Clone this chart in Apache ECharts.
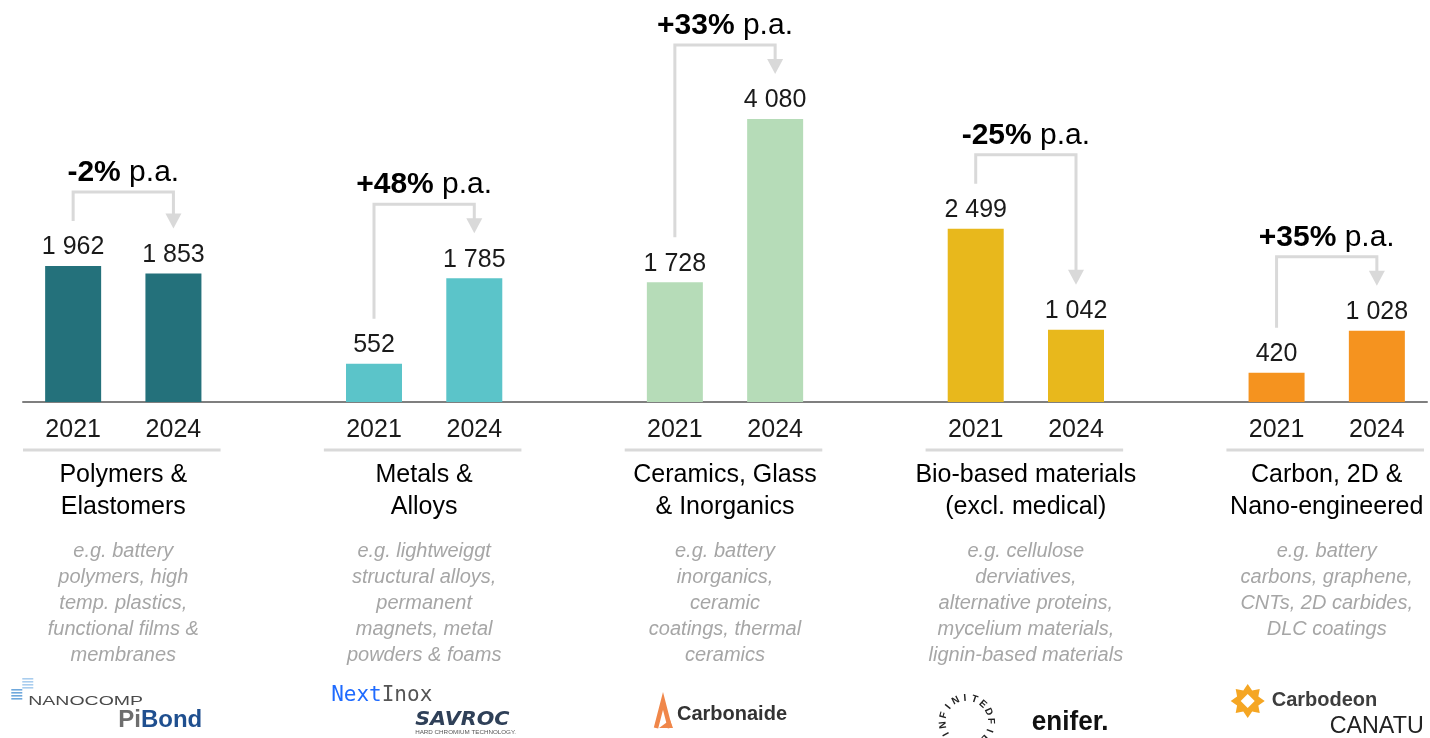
<!DOCTYPE html>
<html>
<head>
<meta charset="utf-8">
<script src="https://cdn.jsdelivr.net/npm/echarts@6/dist/echarts.min.js"></script>
<style>html,body{margin:0;padding:0;background:#fff}#c{width:1430px;height:738px}</style>
</head>
<body>
<div id="c"></div>
<script>
// ---------- data ----------
const groupNames = ['Polymers &\nElastomers', 'Metals &\nAlloys', 'Ceramics, Glass\n& Inorganics', 'Bio-based materials\n(excl. medical)', 'Carbon, 2D &\nNano-engineered'];
const examples = [
  'e.g. battery\npolymers, high\ntemp. plastics,\nfunctional films &\nmembranes',
  'e.g. lightweiggt\nstructural alloys,\npermanent\nmagnets, metal\npowders & foams',
  'e.g. battery\ninorganics,\nceramic\ncoatings, thermal\nceramics',
  'e.g. cellulose\nderviatives,\nalternative proteins,\nmycelium materials,\nlignin-based materials',
  'e.g. battery\ncarbons, graphene,\nCNTs, 2D carbides,\nDLC coatings'
];
const years = ['2021', '2024'];
const values2021 = [1962, 552, 1728, 2499, 420];
const values2024 = [1853, 1785, 4080, 1042, 1028];
const cagrLabels = ['-2%', '+48%', '+33%', '-25%', '+35%'];
const logoNames = [['NANOCOMP', 'PiBond'], ['NextInox', 'SAVROC'], ['Carbonaide'], ['INFINITEDFIBER', 'enifer.'], ['Carbodeon', 'CANATU']];
const palette = ['#24717B', '#5BC4C9', '#B6DCB8', '#E8B81C', '#F5931F'];

// ---------- build ----------
const FONT = '"Liberation Sans", Arial, Helvetica, sans-serif';
const categories = [];
const barData = [];
groupNames.forEach((_, g) => {
  categories.push(years[0], years[1]);
  barData.push({ value: values2021[g], itemStyle: { color: palette[g] } });
  barData.push({ value: values2024[g], itemStyle: { color: palette[g] } });
  if (g < groupNames.length - 1) { categories.push(''); barData.push('-'); }
});
const groupData = groupNames.map((_, g) => [g * 3, values2021[g], g * 3 + 1, values2024[g]]);

function fmt(v) { return String(v).replace(/\B(?=(\d{3})+(?!\d))/g, ' '); }

function txt(x, y, text, st, extra) {
  return Object.assign({ type: 'text', x: x, y: y, style: Object.assign({ text: text, fontFamily: FONT, align: 'left', verticalAlign: 'middle' }, st) }, extra || {});
}

function logoElems(g, cx, base) {
  const L = logoNames[g];
  const els = [];
  if (g === 0) {
    for (let i = 0; i < 4; i++) {
      els.push({ type: 'rect', shape: { x: cx - 112, y: base + 287 + i * 3, width: 11, height: 1.6 }, style: { fill: '#6FA8DC' } });
      els.push({ type: 'rect', shape: { x: cx - 101, y: base + 276 + i * 3, width: 11, height: 1.6 }, style: { fill: '#A9CDEE' } });
    }
    els.push(txt(cx - 95, base + 299, L[0], { fontSize: 13, fill: '#4a4a4a' }, { scaleX: 1.5 }));
    els.push(txt(cx - 5, base + 318, '{a|Pi}{b|Bond}', { rich: { a: { fontSize: 24, fontWeight: 'bold', fill: '#6e6e6e', fontFamily: FONT }, b: { fontSize: 24, fontWeight: 'bold', fill: '#1F4F8F', fontFamily: FONT } } }));
  } else if (g === 1) {
    els.push(txt(cx - 93, base + 294, '{a|Next}{b|Inox}', { rich: { a: { fontSize: 21, fill: '#1F6BFF', fontFamily: '"DejaVu Sans Mono", monospace' }, b: { fontSize: 21, fill: '#555', fontFamily: '"DejaVu Sans Mono", monospace' } } }));
    els.push(txt(cx - 9, base + 318, L[1], { fontSize: 19, fontWeight: 'bold', fontStyle: 'italic', fill: '#2F4058', fontFamily: '"DejaVu Sans", sans-serif' }, { scaleX: 1.09 }));
    els.push(txt(cx - 9, base + 331, 'HARD CHROMIUM TECHNOLOGY.', { fontSize: 5, fill: '#555' }, { scaleX: 1.25 }));
  } else if (g === 2) {
    els.push({ type: 'polyline', shape: { points: [[cx - 69, base + 326], [cx - 62, base + 299], [cx - 55, base + 326]] }, style: { stroke: '#F0874A', lineWidth: 4.5, fill: 'none', lineJoin: 'miter' } });
    els.push({ type: 'polygon', shape: { points: [[cx - 66, base + 326], [cx - 55, base + 318], [cx - 52, base + 326]] }, style: { fill: '#F0874A' } });
    els.push(txt(cx - 48, base + 312, L[0], { fontSize: 20, fontWeight: 'bold', fill: '#333' }));
  } else if (g === 3) {
    const ccx = cx - 59, ccy = base + 320, r = 24;
    const letters = L[0].split('');
    letters.forEach((ch, i) => {
      const a = (150 + i * (300 / (letters.length - 1))) * Math.PI / 180; // clockwise from lower-left
      const px = ccx + r * Math.cos(a), py = ccy + r * Math.sin(a);
      els.push({ type: 'text', x: px, y: py, rotation: -(a + Math.PI / 2), style: { text: ch, fontSize: 10, fontWeight: 'bold', fill: '#222', fontFamily: FONT, align: 'center', verticalAlign: 'middle' } });
    });
    els.push(txt(cx + 6, base + 320, L[1], { fontSize: 28, fontWeight: 'bold', fill: '#111' }, { scaleX: 0.93 }));
  } else if (g === 4) {
    const icx = cx - 79, icy = base + 299;
    const pts = [];
    for (let i = 0; i < 16; i++) {
      const a = i * Math.PI / 8;
      const rr = i % 2 === 0 ? 17 : 11.5;
      pts.push([icx + rr * Math.cos(a), icy + rr * Math.sin(a)]);
    }
    els.push({ type: 'polygon', shape: { points: pts }, style: { fill: '#F5A623' } });
    els.push({ type: 'polygon', shape: { points: [[icx, icy - 7], [icx + 7, icy], [icx, icy + 7], [icx - 7, icy]] }, style: { fill: '#fff' } });
    els.push(txt(cx - 55, base + 298, L[0], { fontSize: 20, fontWeight: 'bold', fill: '#3d3d3d' }));
    els.push(txt(cx + 3, base + 324, L[1], { fontSize: 24, fill: '#222' }, { scaleX: 0.97 }));
  }
  return els;
}

function renderGroup(params, api) {
  const g = params.dataIndex;
  const p1 = api.coord([api.value(0), api.value(1)]);
  const p2 = api.coord([api.value(2), api.value(3)]);
  const base = api.coord([api.value(0), 0])[1];
  const cw = api.size([1, 0])[0];
  const x1 = p1[0], x2 = p2[0], cx = (x1 + x2) / 2;
  const y1 = p1[1] - 45, y2 = p2[1] - 45;
  const top = Math.min(p1[1], p2[1]) - 74;
  const gray = '#D9D9D9';
  const children = [
    { type: 'polyline', shape: { points: [[x1, y1], [x1, top], [x2, top], [x2, y2 - 13]] }, style: { stroke: gray, lineWidth: 3, fill: 'none' } },
    { type: 'polygon', shape: { points: [[x2 - 8, y2 - 15], [x2 + 8, y2 - 15], [x2, y2]] }, style: { fill: gray } },
    { type: 'text', x: cx, y: top - 4, style: { text: '{b|' + cagrLabels[g] + '}{r| p.a.}', align: 'center', verticalAlign: 'bottom',
        rich: { b: { fontSize: 30, fontWeight: 'bold', fill: '#000', fontFamily: FONT }, r: { fontSize: 30, fill: '#000', fontFamily: FONT } } } },
    { type: 'line', shape: { x1: x1 - cw / 2, y1: base + 48, x2: x2 + cw / 2 - 3, y2: base + 48 }, style: { stroke: gray, lineWidth: 3 } },
    { type: 'text', x: cx, y: base + 57, style: { text: groupNames[g], fontSize: 25, lineHeight: 32, fill: '#000', fontFamily: FONT, align: 'center', verticalAlign: 'top' } },
    { type: 'text', x: cx, y: base + 136, style: { text: examples[g], fontSize: 20, lineHeight: 26, fontStyle: 'italic', fill: '#A6A6A6', fontFamily: FONT, align: 'center', verticalAlign: 'top' } }
  ].concat(logoElems(g, cx, base));
  return { type: 'group', children: children };
}

const chart = echarts.init(document.getElementById('c'), null, { renderer: 'canvas' });
chart.setOption({
  animation: false,
  backgroundColor: '#fff',
  grid: { left: 23, right: 3, top: 55.2, bottom: 336, containLabel: false, outerBoundsMode: 'none' },
  xAxis: {
    type: 'category', data: categories,
    axisLine: { show: true, lineStyle: { color: '#7F7F7F', width: 2 } },
    axisTick: { show: false },
    axisLabel: { interval: 0, fontSize: 25, color: '#1a1a1a', fontFamily: FONT, margin: 16 },
    splitLine: { show: false }
  },
  yAxis: { type: 'value', min: 0, max: 5000, show: false, splitLine: { show: false } },
  series: [
    {
      type: 'bar', data: barData, barWidth: 56, silent: true,
      label: { show: true, position: 'top', distance: 6, fontSize: 25, color: '#1a1a1a', fontFamily: FONT, formatter: p => fmt(p.value) }
    },
    {
      type: 'custom', data: groupData, encode: { x: [0, 2], y: [1, 3] }, renderItem: renderGroup, silent: true, clip: false, z: 5
    }
  ]
});
</script>
</body>
</html>
